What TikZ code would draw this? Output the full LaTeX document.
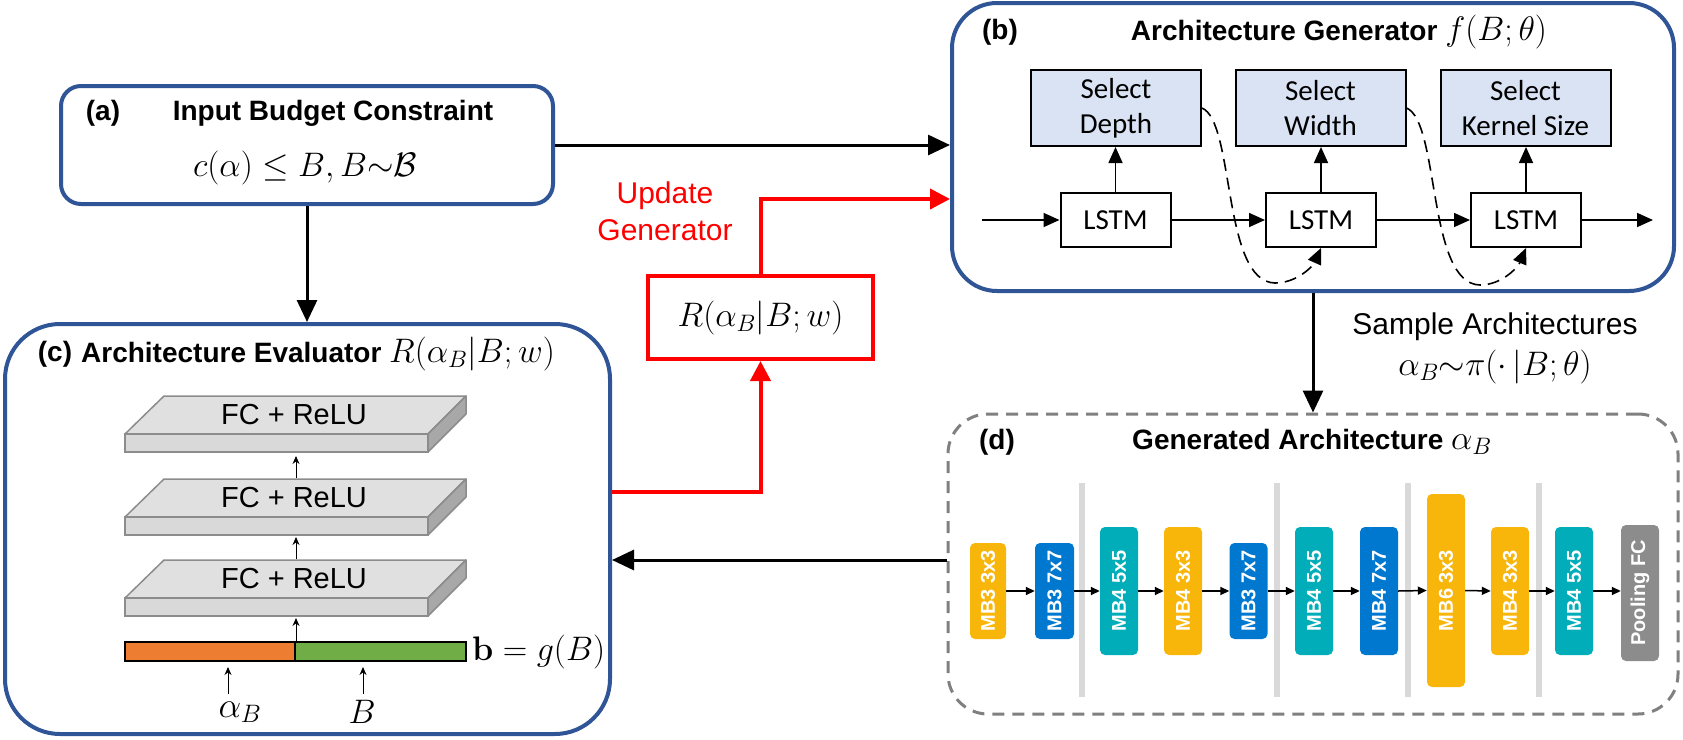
\RequirePackage{fix-cm}
\documentclass[tikz,border=0pt]{standalone}
\usepackage[no-math]{fontspec}
\setmainfont{Liberation Sans}
\newfontfamily\calib{Carlito}
\usetikzlibrary{arrows.meta}
\definecolor{boxblue}{HTML}{2F5597}
\definecolor{selfill}{HTML}{DAE3F3}
\definecolor{cyel}{HTML}{F8B50A}
\definecolor{cblu}{HTML}{0078D0}
\definecolor{ctea}{HTML}{00ADB9}
\definecolor{cgry}{HTML}{8C8C8C}
\definecolor{sepgray}{HTML}{D9D9D9}
\definecolor{dashgray}{HTML}{808080}
\definecolor{barorange}{HTML}{ED7D31}
\definecolor{bargreen}{HTML}{70AD47}
\definecolor{slabtop}{HTML}{E0E0E0}
\definecolor{slabfront}{HTML}{D9D9D9}
\definecolor{slabside}{HTML}{A8A8A8}
\definecolor{slabline}{HTML}{8C8C8C}
\newcommand\mathsz{\fontsize{34}{38}\selectfont}
\tikzset{
 panel/.style={draw=boxblue, line width=4pt, fill=white, inner sep=0pt},
 ttl/.style={font=\fontsize{28}{32}\selectfont\bfseries, inner sep=0pt},
 mth/.style={font=\mathsz, inner sep=0pt},
 lbl/.style={font=\fontsize{30}{37}\selectfont, inner sep=0pt, align=center},
 selbox/.style={draw, line width=2pt, fill=selfill, minimum width=170pt, minimum height=76pt, align=center, font=\calib\fontsize{29}{35}\selectfont, inner sep=0pt},
 lstmbox/.style={draw, line width=2pt, fill=white, minimum width=110pt, minimum height=54pt, font=\calib\fontsize{29}{32}\selectfont, inner sep=0pt},
 bigarr/.style={line width=3pt, -{Triangle[length=22pt,width=20pt]}},
 redarr/.style={draw=red, line width=4pt, -{Triangle[length=20pt,width=20pt]}, color=red},
 genarr/.style={line width=1.6pt, -{Triangle[length=16pt,width=14pt]}},
 dasharr/.style={line width=1.6pt, dash pattern=on 12pt off 7pt, -{Triangle[length=16pt,width=14pt]}},
 blk/.style={rounded corners=5pt, inner sep=0pt, text=white, font=\bfseries\fontsize{20}{20}\selectfont, rotate=90},
 blkarr/.style={line width=1.5pt, -{Triangle[length=9pt,width=8pt]}},
 thinarr/.style={line width=1pt, -{Stealth[length=8pt,width=7pt]}},
 fctxt/.style={font=\fontsize{29}{32}\selectfont, inner sep=0pt},
 sepline/.style={draw=sepgray, line width=6pt},
 slab/.pic={
  \filldraw[draw=slabline, line width=1.5pt, fill=slabtop, line join=round] (125,0) -- (164,-38) -- (466,-38) -- (428,0) -- cycle;
  \filldraw[draw=slabline, line width=1.5pt, fill=slabfront] (125,0) rectangle (428,18);
  \filldraw[draw=slabline, line width=1.5pt, fill=slabside, line join=round] (428,0) -- (466,-38) -- (466,-20) -- (428,18) -- cycle;
 }
}
\begin{document}
\begin{tikzpicture}[x=1pt,y=-1pt]
\useasboundingbox (0,0) rectangle (1683,739);
% panels
\node[panel, rounded corners=20pt, minimum width=492pt, minimum height=118pt] (boxa) at (307,145) {};
\node[panel, rounded corners=45pt, minimum width=722pt, minimum height=288pt] (boxb) at (1313,147) {};
\node[panel, rounded corners=55pt, minimum width=605pt, minimum height=410pt] (boxc) at (307.5,529) {};
\node[draw=dashgray, line width=3pt, dash pattern=on 12pt off 8pt, rounded corners=40pt, minimum width=730pt, minimum height=300pt, inner sep=0pt] (boxd) at (1313,564) {};
\node[draw=red, line width=4pt, minimum width=225pt, minimum height=83pt, mth] (rbox) at (760.5,317.5) {$R(\alpha_B|B;w)$};

% main connectors
\draw[bigarr] (boxa.east) -- (boxa.east -| boxb.west);
\draw[bigarr] (boxa.south) -- (boxa.south |- boxc.north);
\draw[bigarr] (boxb.south) -- (boxb.south |- boxd.north);
\coordinate (dyc) at (0,560);
\draw[bigarr] (boxd.west |- dyc) -- (boxc.east |- dyc);
\coordinate (ryc) at (0,492);
\draw[redarr] (boxc.east |- ryc) -| (rbox.south);
\coordinate (ryt) at (0,199);
\draw[redarr] (rbox.north) |- (boxb.west |- ryt);

% labels
\node[ttl] (la) at (103,113) {(a)};
\node[ttl] (ta) at (333,113) {Input Budget Constraint};
\node[mth] (fa) at (305,168) {$c(\alpha)\le B, B{\sim}\mathcal{B}$};
\node[ttl] (lb) at (1000,32) {(b)};
\node[ttl] (tb) at (1339,32) {Architecture Generator {\mathsz$f(B;\theta)$}};
\node[ttl] (lc) at (55,354) {(c)};
\node[ttl] (tc) at (318,354) {Architecture Evaluator {\mathsz$R(\alpha_B|B;w)$}};
\node[ttl] (ld) at (997,442) {(d)};
\node[ttl] (td) at (1312,442) {Generated Architecture {\mathsz$\alpha_B$}};
\node[lbl, text=red] (upd) at (665,211) {Update\\Generator};
\node[lbl] (samp) at (1495,327) {Sample Architectures};
\node[mth] (sampf) at (1495,367) {$\alpha_B{\sim}\pi(\cdot\,|B;\theta)$};

% generator internals
\node[selbox] (s1) at (1116,108) {Select\\Depth};
\node[selbox] (s2) at (1320.5,108) {Select\\Width};
\node[selbox] (s3) at (1525.5,108) {Select\\Kernel Size};
\node[lstmbox] (l1) at (1115.5,220) {LSTM};
\node[lstmbox] (l2) at (1321,220) {LSTM};
\node[lstmbox] (l3) at (1526,220) {LSTM};
\coordinate (lin) at (982,220);
\coordinate (lout) at (1653,220);
\draw[genarr] (lin) -- (l1.west);
\draw[genarr] (l1.east) -- (l2.west);
\draw[genarr] (l2.east) -- (l3.west);
\draw[genarr] (l3.east) -- (lout);
\draw[genarr] (l1.north) -- (l1.north |- s1.south);
\draw[genarr] (l2.north) -- (l2.north |- s2.south);
\draw[genarr] (l3.north) -- (l3.north |- s3.south);
\draw[dasharr] (s1.east) .. controls (1235,122) and (1222,282) .. (1275,283) .. controls (1297,283) and (1313,266) .. (l2.south);
\draw[dasharr] (s2.east) .. controls (1440,122) and (1427,284) .. (1480,285) .. controls (1502,285) and (1518,267) .. (l3.south);

% evaluator internals
\pic at (0,434) {slab};
\pic at (0,517) {slab};
\pic at (0,598) {slab};
\node[fctxt] (fc1) at (294,415) {FC + ReLU};
\node[fctxt] (fc2) at (294,498) {FC + ReLU};
\node[fctxt] (fc3) at (294,579) {FC + ReLU};
\coordinate (a1s) at (296,478);
\coordinate (a1e) at (296,456);
\coordinate (a2s) at (296,559);
\coordinate (a2e) at (296,537);
\draw[thinarr] (a1s) -- (a1e);
\draw[thinarr] (a2s) -- (a2e);
\node[draw, line width=2pt, fill=barorange, minimum width=170pt, minimum height=19pt, inner sep=0pt] (bora) at (210,651.5) {};
\node[draw, line width=2pt, fill=bargreen, minimum width=171pt, minimum height=19pt, inner sep=0pt] (bgrn) at (380.5,651.5) {};
\coordinate (a3e) at (296,618);
\draw[thinarr] (bora.north east) -- (a3e);
\node[mth, anchor=west] (bfun) at (472,652) {$\mathbf{b}=g(B)$};
\node[font=\fontsize{36}{38}\selectfont, inner sep=0pt] (lalpha) at (240,712) {$\alpha_B$};
\node[font=\mathsz, inner sep=0pt] (lbb) at (362,712) {$B$};
\coordinate (aal) at (228,694);
\coordinate (aab) at (363,694);
\draw[thinarr, shorten >=5pt] (aal) -- (aal |- bora.south);
\draw[thinarr, shorten >=5pt] (aab) -- (aab |- bgrn.south);

% generated architecture
\draw[sepline] (1082,483) -- (1082,697);
\draw[sepline] (1277,483) -- (1277,697);
\draw[sepline] (1408,483) -- (1408,697);
\draw[sepline] (1539,483) -- (1539,697);
\node[blk, fill=cyel, minimum width=96pt, minimum height=36pt] (m1) at (988,591) {MB3 3x3};
\node[blk, fill=cblu, minimum width=96pt, minimum height=39pt] (m2) at (1054.5,591) {MB3 7x7};
\node[blk, fill=ctea, minimum width=128pt, minimum height=38pt] (m3) at (1119,591) {MB4 5x5};
\node[blk, fill=cyel, minimum width=128pt, minimum height=38pt] (m4) at (1183,591) {MB4 3x3};
\node[blk, fill=cblu, minimum width=96pt, minimum height=38pt] (m5) at (1248.5,591) {MB3 7x7};
\node[blk, fill=ctea, minimum width=128pt, minimum height=38pt] (m6) at (1314,591) {MB4 5x5};
\node[blk, fill=cblu, minimum width=128pt, minimum height=38pt] (m7) at (1379,591) {MB4 7x7};
\node[blk, fill=cyel, minimum width=193pt, minimum height=38pt] (m8) at (1446,590.5) {MB6 3x3};
\node[blk, fill=cyel, minimum width=128pt, minimum height=38pt] (m9) at (1510,591) {MB4 3x3};
\node[blk, fill=ctea, minimum width=128pt, minimum height=38pt] (m10) at (1574,591) {MB4 5x5};
\node[blk, fill=cgry, minimum width=136pt, minimum height=38pt] (m11) at (1640,593) {Pooling FC};
\foreach \a/\b in {m1/m2,m2/m3,m3/m4,m4/m5,m5/m6,m6/m7,m7/m8,m8/m9,m9/m10}{
  \draw[blkarr] (\a.south) -- (\b.north);
}
\draw[blkarr] (m10.south) -- (m10.south -| m11.north);
\end{tikzpicture}
\end{document}
